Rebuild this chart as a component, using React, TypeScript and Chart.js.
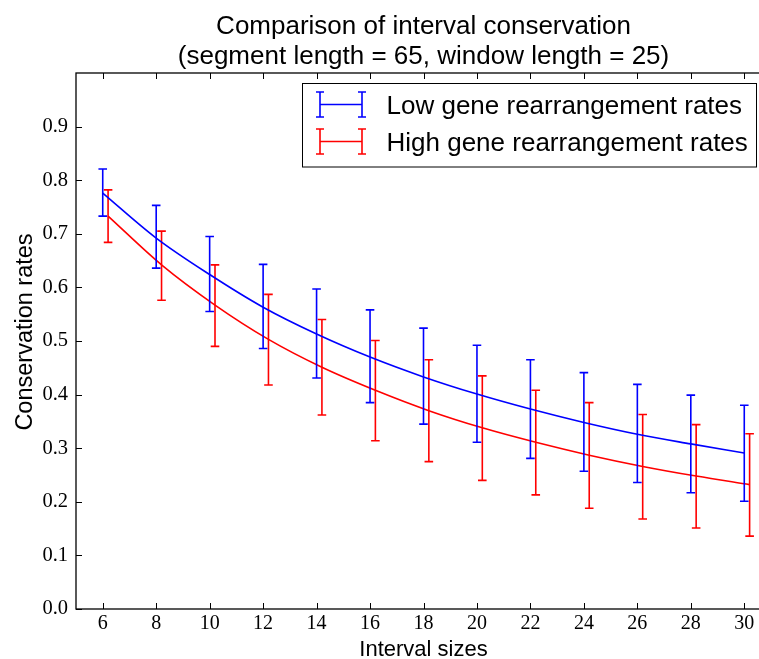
import React, { useEffect, useRef } from "react";
import { Chart, registerables } from "chart.js";

Chart.register(...registerables);

// ---- data ----
const titleLines = ["Comparison of interval conservation", "(segment length = 65, window length = 25)"];
const xAxisTitle = "Interval sizes";
const yAxisTitle = "Conservation rates";
const seriesLabels = ["Low gene rearrangement rates", "High gene rearrangement rates"];

const intervalSizes = [6, 8, 10, 12, 14, 16, 18, 20, 22, 24, 26, 28, 30];
const highX = [6.2, 8.2, 10.2, 12.2, 14.2, 16.2, 18.2, 20.2, 22.2, 24.2, 26.2, 28.2, 30.2];

const lowMean = [0.776, 0.692, 0.624, 0.563, 0.513, 0.470, 0.433, 0.401, 0.373, 0.348, 0.326, 0.308, 0.291];
const lowUpper = [0.821, 0.753, 0.695, 0.643, 0.597, 0.558, 0.524, 0.492, 0.465, 0.441, 0.419, 0.399, 0.380];
const lowLower = [0.733, 0.636, 0.555, 0.486, 0.431, 0.385, 0.345, 0.311, 0.281, 0.257, 0.236, 0.217, 0.201];

const highMean = [0.733, 0.642, 0.567, 0.503, 0.451, 0.408, 0.370, 0.338, 0.311, 0.287, 0.266, 0.248, 0.232];
const highUpper = [0.782, 0.705, 0.642, 0.587, 0.540, 0.501, 0.465, 0.435, 0.408, 0.385, 0.363, 0.344, 0.327];
const highLower = [0.684, 0.576, 0.490, 0.418, 0.362, 0.314, 0.275, 0.240, 0.213, 0.188, 0.168, 0.151, 0.136];

const xTickValues = intervalSizes;
const yTickValues = [0, 0.1, 0.2, 0.3, 0.4, 0.5, 0.6, 0.7, 0.8, 0.9];

const BLUE = "#0000ff";
const RED = "#ff0000";
const SANS = "'Liberation Sans', Arial, Helvetica, sans-serif";
const SERIF = "'Liberation Serif', 'Times New Roman', serif";

const errorBarPlugin = {
  id: "errorBars",
  afterDatasetDraw(chart: any, args: any) {
    const ds = chart.data.datasets[args.index];
    if (!ds.errLow) return;
    const { ctx } = chart;
    const xs = chart.scales.x;
    const ys = chart.scales.y;
    ctx.save();
    ctx.strokeStyle = ds.borderColor;
    ctx.lineWidth = 1.6;
    const cap = 4.3;
    ds.data.forEach((p: any, i: number) => {
      const px = xs.getPixelForValue(p.x);
      const y1 = ys.getPixelForValue(ds.errLow[i]);
      const y2 = ys.getPixelForValue(ds.errHigh[i]);
      ctx.beginPath();
      ctx.moveTo(px, y1);
      ctx.lineTo(px, y2);
      ctx.moveTo(px - cap, y1);
      ctx.lineTo(px + cap, y1);
      ctx.moveTo(px - cap, y2);
      ctx.lineTo(px + cap, y2);
      ctx.stroke();
    });
    ctx.restore();
  },
};

const decorPlugin = {
  id: "decor",
  afterDraw(chart: any) {
    const { ctx, chartArea: a } = chart;
    const xs = chart.scales.x;
    const ys = chart.scales.y;
    ctx.save();
    // frame
    ctx.strokeStyle = "#000";
    ctx.lineWidth = 1.3;
    ctx.strokeRect(a.left, a.top, a.right - a.left, a.bottom - a.top);
    // inward ticks
    const tl = 6;
    ctx.beginPath();
    xTickValues.forEach((v) => {
      const px = Math.round(xs.getPixelForValue(v)) + 0.5;
      ctx.moveTo(px, a.bottom);
      ctx.lineTo(px, a.bottom - tl);
      ctx.moveTo(px, a.top);
      ctx.lineTo(px, a.top + tl);
    });
    yTickValues.forEach((v) => {
      const py = Math.round(ys.getPixelForValue(v)) + 0.5;
      ctx.moveTo(a.left, py);
      ctx.lineTo(a.left + tl, py);
      ctx.moveTo(a.right, py);
      ctx.lineTo(a.right - tl, py);
    });
    ctx.lineWidth = 1;
    ctx.stroke();

    // title
    const cx = (a.left + a.right) / 2;
    ctx.fillStyle = "#000";
    ctx.textAlign = "center";
    ctx.textBaseline = "alphabetic";
    ctx.font = `26px ${SANS}`;
    ctx.fillText(titleLines[0], cx, 34);
    ctx.fillText(titleLines[1], cx, 64);

    // axis titles
    ctx.font = `22px ${SANS}`;
    ctx.fillText(xAxisTitle, cx, 656);
    ctx.save();
    ctx.font = `23.5px ${SANS}`;
    ctx.translate(32, 332);
    ctx.rotate(-Math.PI / 2);
    ctx.fillText(yAxisTitle, 0, 0);
    ctx.restore();

    // legend
    const lx = 302.5, ly = 83.5, lw = 454, lh = 83.5;
    ctx.fillStyle = "#fff";
    ctx.fillRect(lx, ly, lw, lh);
    ctx.strokeStyle = "#000";
    ctx.lineWidth = 1;
    ctx.strokeRect(lx, ly, lw, lh);
    const rows = [
      { y: 104.5, color: BLUE, label: seriesLabels[0] },
      { y: 141.5, color: RED, label: seriesLabels[1] },
    ];
    rows.forEach((r) => {
      ctx.strokeStyle = r.color;
      ctx.lineWidth = 1.6;
      ctx.beginPath();
      ctx.moveTo(320, r.y);
      ctx.lineTo(362, r.y);
      [320, 362].forEach((ex) => {
        ctx.moveTo(ex, r.y - 12.5);
        ctx.lineTo(ex, r.y + 12.5);
        ctx.moveTo(ex - 4, r.y - 12.5);
        ctx.lineTo(ex + 4, r.y - 12.5);
        ctx.moveTo(ex - 4, r.y + 12.5);
        ctx.lineTo(ex + 4, r.y + 12.5);
      });
      ctx.stroke();
      ctx.fillStyle = "#000";
      ctx.textAlign = "left";
      ctx.font = `26px ${SANS}`;
      ctx.fillText(r.label, 386.5, r.y + 9);
    });
    ctx.restore();
  },
};

export default function App() {
  const ref = useRef<HTMLCanvasElement | null>(null);
  useEffect(() => {
    if (!ref.current) return;
    const chart = new Chart(ref.current, {
      type: "line",
      data: {
        datasets: [
          {
            label: seriesLabels[0],
            data: intervalSizes.map((x, i) => ({ x, y: lowMean[i] })),
            errLow: lowLower,
            errHigh: lowUpper,
            borderColor: BLUE,
            backgroundColor: BLUE,
            borderWidth: 1.6,
            pointRadius: 0,
            cubicInterpolationMode: "monotone",
          } as any,
          {
            label: seriesLabels[1],
            data: highX.map((x, i) => ({ x, y: highMean[i] })),
            errLow: highLower,
            errHigh: highUpper,
            borderColor: RED,
            backgroundColor: RED,
            borderWidth: 1.6,
            pointRadius: 0,
            cubicInterpolationMode: "monotone",
          } as any,
        ],
      },
      options: {
        responsive: false,
        devicePixelRatio: 1,
        animation: false,
        layout: { padding: { top: 73, right: 29, left: 0, bottom: 0 } },
        plugins: {
          legend: { display: false },
          title: { display: false },
          tooltip: { enabled: false },
        },
        scales: {
          x: {
            type: "linear",
            min: 5,
            max: 31,
            grid: { display: false, drawTicks: false },
            border: { display: false },
            ticks: {
              color: "#000",
              font: { family: SERIF, size: 20 },
              padding: 3,
              autoSkip: false,
              maxRotation: 0,
              callback: (v: any) => String(v),
            },
            afterBuildTicks: (s: any) => {
              s.ticks = xTickValues.map((v) => ({ value: v }));
            },
            afterFit: (s: any) => {
              s.height = 50;
            },
          },
          y: {
            type: "linear",
            min: 0,
            max: 1,
            grid: { display: false, drawTicks: false },
            border: { display: false },
            ticks: {
              color: "#000",
              font: { family: SERIF, size: 20.5 },
              padding: 8,
              callback: (v: any) => Number(v).toFixed(1),
            },
            afterBuildTicks: (s: any) => {
              s.ticks = yTickValues.map((v) => ({ value: v }));
            },
            afterFit: (s: any) => {
              s.width = 76;
            },
          },
        },
      } as any,
      plugins: [errorBarPlugin, decorPlugin],
    });
    return () => chart.destroy();
  }, []);
  return (
    <div
      style={{
        position: "fixed",
        left: 0,
        top: 0,
        width: 759,
        height: 659,
        overflow: "hidden",
        background: "#fff",
      }}
    >
      <canvas ref={ref} width={800} height={659} style={{ display: "block" }} />
    </div>
  );
}
